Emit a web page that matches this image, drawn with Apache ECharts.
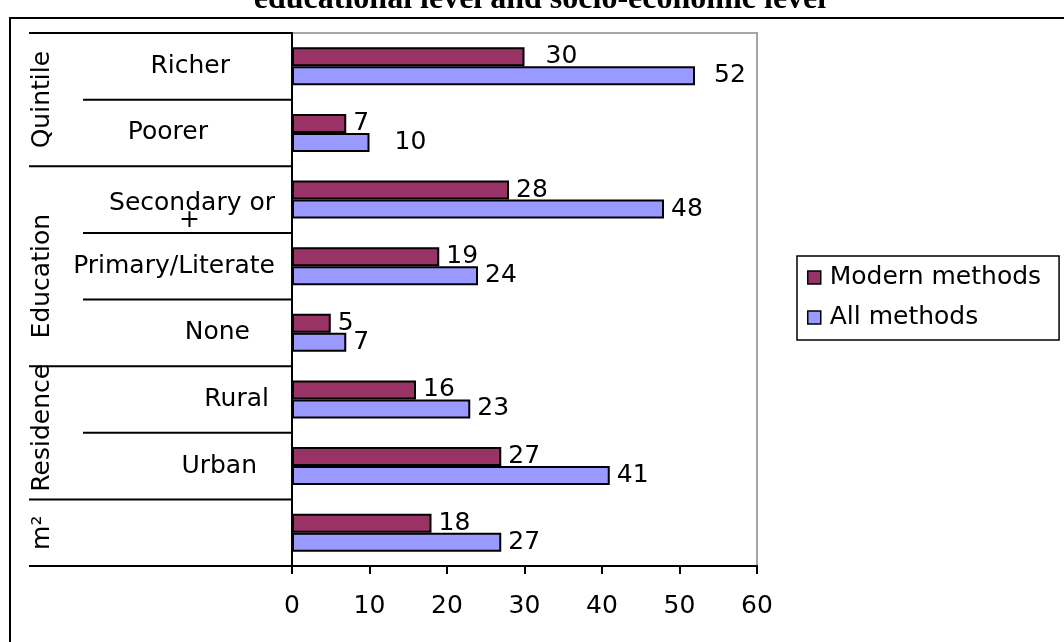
<!DOCTYPE html>
<html>
<head>
<meta charset="utf-8">
<script src="https://cdn.jsdelivr.net/npm/echarts@6/dist/echarts.min.js"></script>
<style>
  html, body { margin: 0; padding: 0; background: #fff; }
  #chart { width: 1064px; height: 642px; }
</style>
</head>
<body>
<div id="chart"></div>
<script>
// categories top to bottom
const categories = ['Richer', 'Poorer', 'Secondary or +', 'Primary/Literate', 'None', 'Rural', 'Urban', ' '];
const modernMethods = [30, 7, 28, 19, 5, 16, 27, 18];
const allMethods = [52, 10, 48, 24, 7, 23, 41, 27];
const groups = [
  { name: 'Quintile', from: 0, to: 2 },
  { name: 'Education', from: 2, to: 5 },
  { name: 'Residence', from: 5, to: 7 },
  { name: 'm²', from: 7, to: 8 }
];
const xTicks = [0, 10, 20, 30, 40, 50, 60];

// layout tweaks (px)
const catPadRight = [45, 67, 0, 0, 25, 6, 18, 0];
const catPadTop = [0, 0, 24, 0, 0, 0, 0, 0];
const modernGap = [21, 7, 7, 7, 7, 7, 7, 7];
const allGap = [19, 25, 7, 7, 7, 7, 7, 7];
const groupShift = [0, 10, -5, 0];

const FONT = 'DejaVu Sans';
const FS = 25;
const chart = echarts.init(document.getElementById('chart'));

const option = {
  animation: false,
  backgroundColor: '#fff',
  title: {
    text: 'educational level and socio-economic level',
    left: 535,
    textAlign: 'center',
    top: -21,
    textStyle: { fontFamily: 'Liberation Serif', fontWeight: 'bold', fontSize: 32, color: '#000' }
  },
  legend: {
    orient: 'vertical',
    left: 797,
    top: 256,
    padding: [9, 18, 10, 10],
    itemGap: 15,
    itemWidth: 13,
    itemHeight: 13,
    icon: 'rect',
    borderColor: '#000',
    borderWidth: 1.5,
    itemStyle: { borderColor: '#000', borderWidth: 1.5 },
    textStyle: { fontFamily: FONT, fontSize: FS, color: '#000', padding: [0, 0, 0, 4] },
    data: ['Modern methods', 'All methods']
  },
  grid: {
    left: 292, right: 307, top: 33, bottom: 76,
    show: true, borderColor: '#a6a6a6', borderWidth: 2
  },
  xAxis: {
    type: 'value',
    min: xTicks[0],
    max: xTicks[xTicks.length - 1],
    interval: 10,
    axisLine: { show: true, lineStyle: { color: '#000', width: 2 } },
    axisTick: { show: true, length: 8, lineStyle: { color: '#000', width: 2 } },
    axisLabel: { fontFamily: FONT, fontSize: FS, color: '#000', margin: 28 },
    splitLine: { show: false }
  },
  yAxis: {
    type: 'category',
    inverse: true,
    data: categories.map((c, i) => ({
      value: c,
      textStyle: { padding: [catPadTop[i], catPadRight[i], 0, 0] }
    })),
    axisLine: { show: true, lineStyle: { color: '#000', width: 2 } },
    axisTick: { show: false },
    axisLabel: {
      fontFamily: FONT, fontSize: FS, color: '#000', align: 'right', margin: 17,
      formatter: v => v === 'Secondary or +' ? '{a|Secondary or}\n{b|+}' : v,
      rich: {
        a: { fontFamily: FONT, fontSize: FS, color: '#000', lineHeight: 17 },
        b: { fontFamily: FONT, fontSize: FS, color: '#000', lineHeight: 17, padding: [0, 75, 0, 0] }
      }
    }
  },
  series: [
    {
      name: 'Modern methods',
      type: 'bar',
      barWidth: 19,
      barGap: '0%',
      itemStyle: { color: '#993366', borderColor: '#000', borderWidth: 2 },
      label: { show: true, position: 'right', distance: 7, fontFamily: FONT, fontSize: FS, color: '#000' },
      data: modernMethods.map((v, i) => ({ value: v, label: { distance: modernGap[i] } }))
    },
    {
      name: 'All methods',
      type: 'bar',
      barWidth: 19,
      itemStyle: { color: '#9999ff', borderColor: '#000', borderWidth: 2 },
      label: { show: true, position: 'right', distance: 7, fontFamily: FONT, fontSize: FS, color: '#000' },
      data: allMethods.map((v, i) => ({ value: v, label: { distance: allGap[i] } }))
    }
  ]
};
chart.setOption(option);

// table lines and group labels on the left, placed from the category axis
const y0 = chart.convertToPixel({ yAxisIndex: 0 }, 0);
const y1 = chart.convertToPixel({ yAxisIndex: 0 }, 1);
const band = y1 - y0;
const edge = k => y0 - band / 2 + k * band;
const axisX = chart.convertToPixel({ xAxisIndex: 0 }, 0);
const groupStarts = groups.map(g => g.from).concat([categories.length]);

const graphics = [{
  type: 'rect',
  shape: { x: 10, y: 18, width: 1100, height: 700 },
  style: { fill: 'none', stroke: '#000', lineWidth: 2 },
  silent: true
}];
for (let k = 0; k <= categories.length; k++) {
  const long = groupStarts.indexOf(k) >= 0;
  graphics.push({
    type: 'line',
    shape: { x1: long ? 29 : 83, y1: edge(k), x2: axisX, y2: edge(k) },
    style: { stroke: '#000', lineWidth: 2 },
    silent: true
  });
}
groups.forEach((g, i) => {
  graphics.push({
    type: 'text',
    x: 42,
    y: (edge(g.from) + edge(g.to)) / 2 + groupShift[i],
    rotation: Math.PI / 2,
    style: {
      text: g.name, fill: '#000', font: FS + 'px "DejaVu Sans"',
      textAlign: 'center', textVerticalAlign: 'middle'
    },
    silent: true
  });
});
chart.setOption({ graphic: graphics });

window.onresize = () => {
  chart.resize();
};
</script>
</body>
</html>
